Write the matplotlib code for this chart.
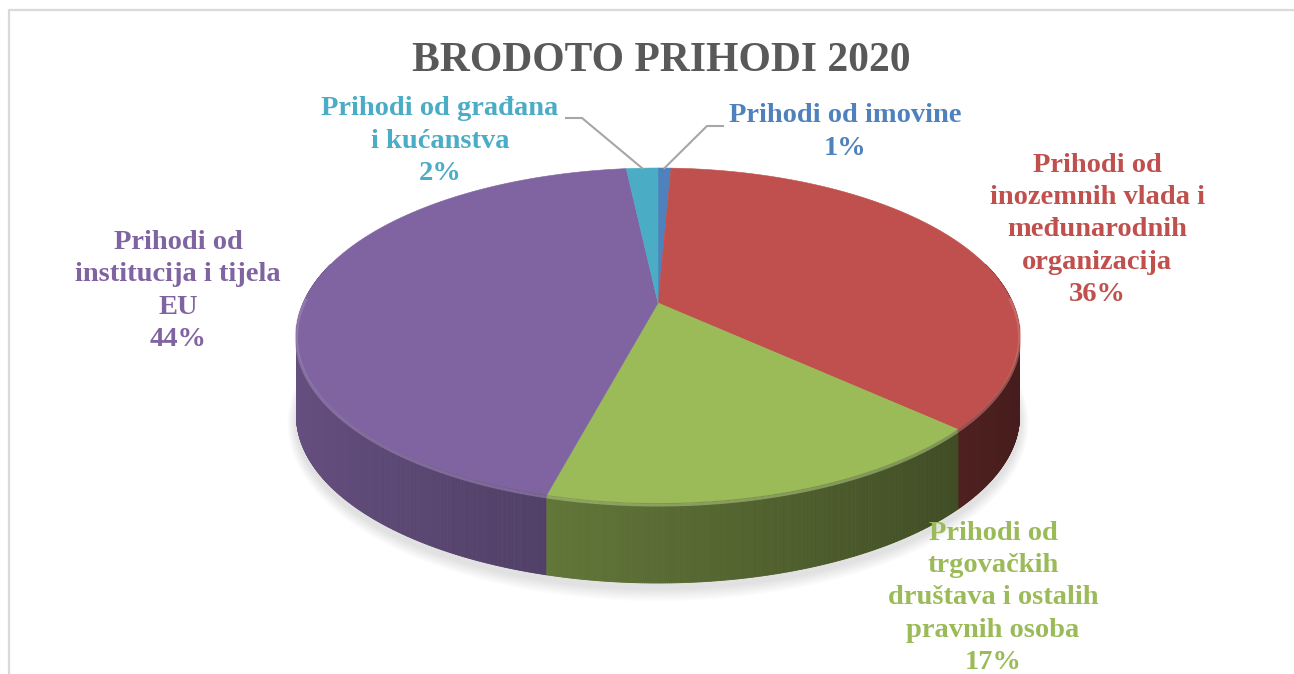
import numpy as np
import matplotlib
matplotlib.use('Agg')
import matplotlib.pyplot as plt
from matplotlib.collections import PolyCollection
from matplotlib import colors as mcolors

# data, clockwise from 12 o'clock
labels = ['Prihodi od imovine',
          'Prihodi od\ninozemnih vlada i\nmeđunarodnih\norganizacija',
          'Prihodi od\ntrgovačkih\ndruštava i ostalih\npravnih osoba',
          'Prihodi od\ninstitucija i tijela\nEU',
          'Prihodi od građana\ni kućanstva']
values = [0.7, 36.2, 17.2, 44.2, 1.7]
colors = ['#4F81BD', '#C0504D', '#9BBB59', '#8064A2', '#4BACC6']
title = 'BRODOTO PRIHODI 2020'

# label block centres (pixels)
label_pos = [(845, 132), (1097, 230), (993, 598), (178, 291), (440, 141)]

W, H = 1294, 674
fig = plt.figure(figsize=(W / 100, H / 100), dpi=100)
ax = fig.add_axes([0, 0, 1, 1])
ax.set_xlim(0, W)
ax.set_ylim(H, 0)
ax.axis('off')

# pie geometry in pixels, simple perspective for the top disc
cx, cy = 658, 303
A, B, k = 354.7, 161.2, 0.194
depth = 80


def rim(phi, dy=0.0):
    d = 1 + k * np.sin(phi)
    return cx + A * np.cos(phi) / d, cy - B * np.sin(phi) / d + dy


vals = np.array(values, dtype=float)
cum = np.concatenate([[0], np.cumsum(vals)]) / vals.sum()
starts = np.radians(90 - 360 * cum[:-1])
ends = np.radians(90 - 360 * cum[1:])
pct = np.round(vals / vals.sum() * 100).astype(int)

# soft shadow under the pie
ph = np.linspace(0, 2 * np.pi, 400)
for i in range(10):
    sx, sy = rim(ph, depth + 6)
    s = 1 + 0.0025 * (i + 1)
    ax.fill(cx + (sx - cx) * s, cy + depth + 6 + (sy - cy - depth - 6) * (s + 0.004 * i),
            color='#000000', alpha=0.012, lw=0, zorder=1)


def shade(u):
    return 0.8 - 0.45 * (u + 1) / 2


# side of the cylinder
n = 1440
edges = np.linspace(np.pi / 2, np.pi / 2 - 2 * np.pi, n + 1)
quads, qcols, qkeys = [], [], []
for j in range(n):
    a, b = edges[j], edges[j + 1]
    m = 0.5 * (a + b)
    if np.sin(m) > 0.25:
        continue
    frac = ((np.pi / 2 - m) / (2 * np.pi)) % 1.0
    idx = np.searchsorted(cum, frac) - 1
    idx = min(max(idx, 0), len(vals) - 1)
    xa, ya = rim(a)
    xb, yb = rim(b)
    quads.append([(xa, ya), (xb, yb), (xb, yb + depth), (xa, ya + depth)])
    base = np.array(mcolors.to_rgb(colors[idx]))
    qcols.append(tuple(np.clip(base * shade(np.cos(m)), 0, 1)))
    qkeys.append(ya)
order = np.argsort(qkeys)
ax.add_collection(PolyCollection([quads[i] for i in order],
                                 facecolors=[qcols[i] for i in order],
                                 edgecolors=[qcols[i] for i in order],
                                 linewidths=0.6, zorder=2))

# top face
for i in range(len(vals)):
    phis = np.linspace(starts[i], ends[i], 200)
    x, y = rim(phis)
    ax.fill(np.r_[cx, x], np.r_[cy, y], color=colors[i], lw=0.4,
            ec=colors[i], zorder=3)
    # light bevel along the front edge
    front = phis[np.sin(phis) < 0.05]
    if len(front) > 1:
        hx, hy = rim(front, 2.0)
        light = tuple(np.clip(np.array(mcolors.to_rgb(colors[i])) * 0.75 + 0.25, 0, 1))
        ax.plot(hx, hy, color=light, lw=2.2, alpha=0.55, zorder=4,
                solid_capstyle='butt')

# labels
font = 'Liberation Serif'
for i in range(len(vals)):
    tx, ty = label_pos[i]
    ax.text(tx, ty, f'{labels[i]}\n{pct[i]}%', ha='center', va='center',
            color=colors[i], fontsize=20.5, fontweight='bold', family=font,
            linespacing=1.37, zorder=6)

# leader lines for the two small slices
leaders = {0: ((723, 126), (707, 126)), 4: ((566, 118), (582, 118))}
for i, (p0, p1) in leaders.items():
    mid = 0.5 * (starts[i] + ends[i])
    ex, ey = rim(mid)
    ax.plot([p0[0], p1[0], ex], [p0[1], p1[1], ey], color='#A6A6A6',
            lw=1.5, zorder=5)

ax.text(661, 61, title, ha='center', va='center', color='#595959',
        fontsize=30, fontweight='bold', family=font)

# chart border
ax.plot([9, 9, W], [H, 9.5, 9.5], color='#D9D9D9', lw=1.6, zorder=0)

fig.savefig('out.png', dpi=100)
